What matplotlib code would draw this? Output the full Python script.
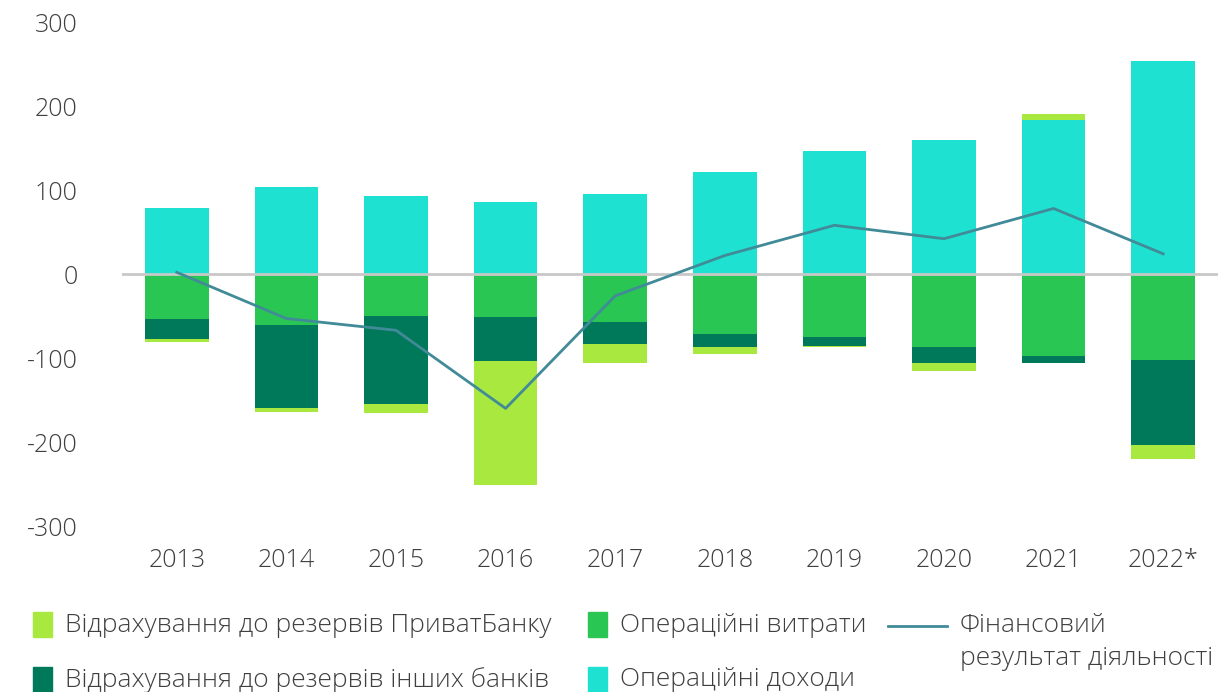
import numpy as np
import matplotlib.pyplot as plt
from matplotlib.patches import Rectangle
from matplotlib.lines import Line2D

plt.rcParams['font.family'] = ['Open Sans', 'DejaVu Sans']
plt.rcParams['axes.unicode_minus'] = False

years = ['2013', '2014', '2015', '2016', '2017', '2018', '2019', '2020', '2021', '2022*']
income = [78, 104, 93, 86, 95.5, 121, 147, 160, 183, 254]
opex = [-53, -60.5, -50, -51, -57, -71, -75.5, -87, -97.5, -102]
otherBanks = [-24.5, -99, -105, -53, -26, -16, -10.5, -19, -8.5, -102]
privat = [-4, -5, -10, -147, -23, -8, -1, -9, 7, -16]
result = [2, -53, -67, -160, -26, 22, 58, 42, 78, 24]

labels = ['Відрахування до резервів ПриватБанку', 'Відрахування до резервів інших банків',
          'Операційні витрати', 'Операційні доходи',
          'Фінансовий\nрезультат діяльності']
cPrivat = '#a8e83f'
cOther = '#00785a'
cOpex = '#29c653'
cIncome = '#1fe1d1'
cLine = '#418b98'
textColor = '#3f3f3f'

fig = plt.figure(figsize=(12.27, 6.92), dpi=100)
ax = fig.add_axes([122 / 1227, 1 - 526 / 692, (1218 - 122) / 1227, (526 - 22) / 692])

x = np.arange(len(years))
width = 0.58

income = np.array(income)
opex = np.array(opex)
otherBanks = np.array(otherBanks)
privat = np.array(privat)

ax.bar(x, income, width, color=cIncome, zorder=2)
ax.bar(x, opex, width, color=cOpex, zorder=2)
ax.bar(x, otherBanks, width, bottom=opex, color=cOther, zorder=2)
# privat goes on the negative stack, or on top of income when positive
privatBottom = np.where(privat < 0, opex + otherBanks, income)
ax.bar(x, privat, width, bottom=privatBottom, color=cPrivat, zorder=2)

ax.axhline(0, color='#c8c8c8', lw=2, zorder=3)
ax.plot(x, result, color=cLine, lw=2, zorder=4)

ax.set_xlim(-0.5, len(years) - 0.5)
ax.set_ylim(-300, 300)
ax.set_yticks([-300, -200, -100, 0, 100, 200, 300])
ax.set_xticks(x)
ax.set_xticklabels(years)
for s in ax.spines.values():
    s.set_visible(False)
ax.tick_params(length=0, labelsize=18, colors=textColor)
ax.tick_params(axis='y', pad=32)
ax.tick_params(axis='x', pad=16)
for t in ax.get_xticklabels() + ax.get_yticklabels():
    t.set_fontweight('light')

# legend drawn by hand
def patchItem(px, py, color, text):
    fig.add_artist(Rectangle((px / 1227, 1 - (py + 12) / 692), 19 / 1227, 25 / 692,
                             transform=fig.transFigure, color=color))
    fig.text((px + 32) / 1227, 1 - py / 692, text, fontsize=19, color=textColor,
             va='center', fontweight='light')

patchItem(33, 625, cPrivat, labels[0])
patchItem(33, 680, cOther, labels[1])
patchItem(588, 625, cOpex, labels[2])
patchItem(588, 680, cIncome, labels[3])
fig.add_artist(Line2D([888 / 1227, 947 / 1227], [1 - 626 / 692, 1 - 626 / 692],
                      transform=fig.transFigure, color=cLine, lw=2))
fig.text(960 / 1227, 1 - 613 / 692, labels[4], fontsize=19, color=textColor,
         va='top', linespacing=1.4, fontweight='light')

fig.savefig('out.png', dpi=100)
